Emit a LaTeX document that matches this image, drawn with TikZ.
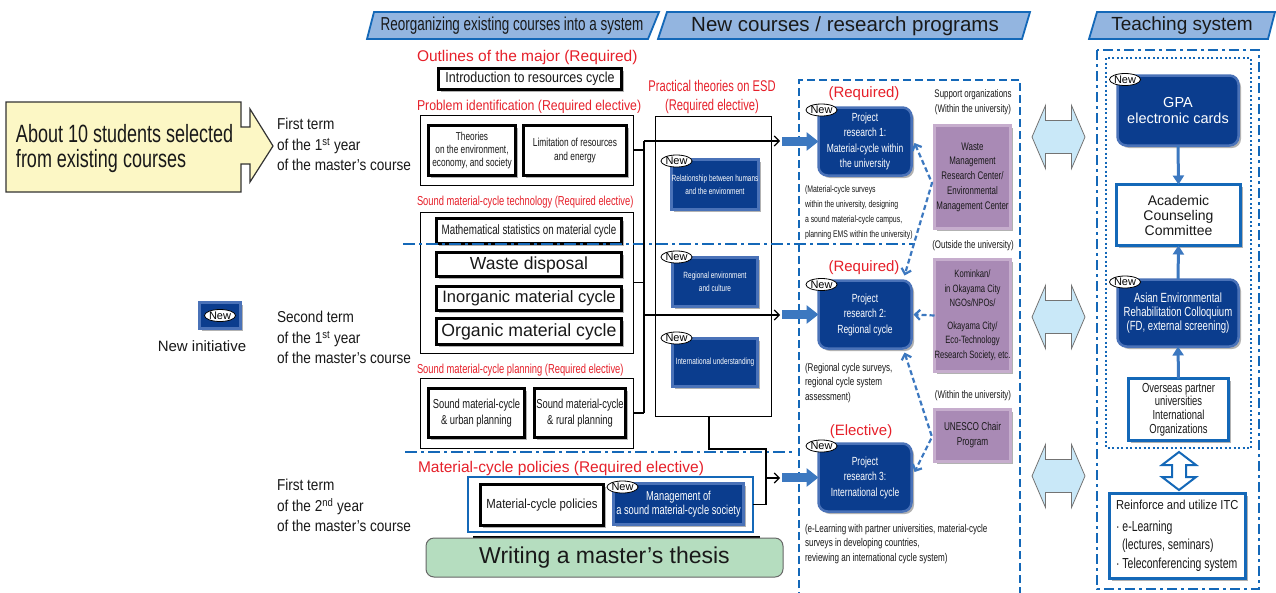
\documentclass[tikz,border=0pt]{standalone}
\usepackage{fontspec}
\setmainfont{Liberation Sans}
\newfontfamily\cnd{Liberation Sans}[FakeStretch=0.86]
\newfontfamily\xcnd{Liberation Sans}[FakeStretch=0.72]
\usetikzlibrary{arrows.meta,shadows,shapes.geometric}
\newcommand\fsz[2]{\fontsize{#1}{#2}\selectfont}
\definecolor{dblue}{HTML}{0B3D8E}
\definecolor{bev}{HTML}{4A72B8}
\definecolor{redt}{HTML}{E6202A}
\definecolor{lineblue}{HTML}{1468B8}
\definecolor{arrblue}{HTML}{3C78C0}
\definecolor{bannerfill}{HTML}{93B5E0}
\definecolor{purp}{HTML}{A98AB5}
\definecolor{purpbev}{HTML}{C6ADCD}
\definecolor{lblue}{HTML}{C9E8F8}
\definecolor{yell}{HTML}{FCF7C5}
\definecolor{thesisgreen}{HTML}{B5DDBF}
\tikzset{
  every node/.style={inner sep=0pt, outer sep=0pt, align=center, text=black!90},
  shad/.style={drop shadow={shadow xshift=2.5pt,shadow yshift=-2.5pt,fill=black,opacity=0.3}},
  kbox/.style={draw=black, line width=3pt, fill=white, shad},
  obox/.style={draw=black, line width=0.9pt},
  bbox/.style={fill=dblue, draw=bev, line width=2.5pt, text=white, shad},
  rbox/.style={bbox, rounded corners=9pt},
  pbox/.style={fill=purp, draw=purpbev, line width=2.5pt, shad},
  wbox/.style={draw=lineblue, line width=2.5pt, fill=white, shad},
  newtag/.style={ellipse, draw=black, fill=white, line width=0.8pt, minimum width=29pt, minimum height=12pt, font=\fsz{11}{11}, text=black},
  redlbl/.style={text=redt},
  banner/.style={fill=bannerfill, draw=lineblue, line width=1.8pt},
  conn/.style={draw=black, line width=1.1pt},
  carr/.style={conn, -{Straight Barb[length=5pt,width=10pt]}},
  fatarr/.style={draw=arrblue, line width=9pt, -{Triangle[length=12pt,width=18pt]}},
  dasharr/.style={draw=arrblue, line width=2.2pt, dash pattern=on 5pt off 3pt, {Straight Barb[length=5pt,width=10pt]}-{Straight Barb[length=5pt,width=10pt]}},
  dasharrone/.style={draw=arrblue, line width=2.2pt, dash pattern=on 5pt off 3pt, -{Straight Barb[length=5pt,width=10pt]}},
  ddot/.style={draw=lineblue, line width=2.5pt, dash pattern=on 12pt off 4pt on 3pt off 4pt},
  dashbox/.style={draw=lineblue, line width=2.5pt, dash pattern=on 8pt off 4pt},
  tarr/.style={draw=arrblue, line width=3pt, -{Triangle[length=9pt,width=11pt]}},
  dblarrow/.pic={\draw[fill=lblue, draw=black!55, line width=0.8pt] (-26.5,0) -- (-13,-31.5) -- (-13,-16.5) -- (13,-16.5) -- (13,-31.5) -- (26.5,0) -- (13,31.5) -- (13,16.5) -- (-13,16.5) -- (-13,31.5) -- cycle;}
}
\begin{document}
\begin{tikzpicture}[x=1pt,y=-1pt]
\useasboundingbox (0,0) rectangle (1276,592);
\fill[white] (0,0) rectangle (1276,592);

% banners
\draw[banner] (367,39) -- (374,12) -- (659,12) -- (648,39) -- cycle;
\node[font={\xcnd\fsz{18.7}{18.7}}] (b1) at (512,26) {Reorganizing existing courses into a system};
\draw[banner] (658,39) -- (667,12) -- (1030,12) -- (1022,39) -- cycle;
\node[font={\fsz{20.5}{20.5}}] (b2) at (845,26) {New courses / research programs};
\draw[banner] (1089,39) -- (1097,12) -- (1275,12) -- (1268,39) -- cycle;
\node[font={\fsz{19}{19}}] (b3) at (1182,26) {Teaching system};

% yellow arrow
\draw[fill=yell, draw=black!80, line width=1.2pt] (6,102) -- (241,102) -- (241,127) -- (250,127) -- (250,109) -- (273,146) -- (250,182) -- (250,164) -- (241,164) -- (241,192) -- (6,192) -- cycle;
\node[anchor=north west, align=left, font={\xcnd\fsz{25}{25}}] (stud) at (16,124) {About 10 students selected\\from existing courses};

% term labels
\tikzset{termlbl/.style={anchor=north west, align=left, font={\cnd\fsz{15.8}{20.5}}}}
\node[termlbl] (t1) at (277,118.5) {First term\\of the 1\textsuperscript{st} year\\of the master’s course};
\node[termlbl] (t2) at (277,311.5) {Second term\\of the 1\textsuperscript{st} year\\of the master’s course};
\node[termlbl] (t3) at (277,479.5) {First term\\of the 2\textsuperscript{nd} year\\of the master’s course};

% new initiative legend
\node[bbox, minimum width=41pt, minimum height=26pt] (nicon) at (220,315.5) {};
\node[newtag] (nicontag) at (nicon.center) {New};
\node[anchor=base, font={\fsz{15}{15}}] (nilbl) at (202,351) {New initiative};

% existing courses
\node[redlbl, anchor=base west, font={\fsz{15.5}{15.5}}] (lout) at (417,61) {Outlines of the major (Required)};
\node[kbox, minimum width=183pt, minimum height=21pt, font={\cnd\fsz{14.5}{14.5}}] (intro) at (530,79) {Introduction to resources cycle};

\node[redlbl, anchor=base west, font={\cnd\fsz{14.3}{14.3}}] (lprob) at (417,110) {Problem identification (Required elective)};
\node[obox, minimum width=213pt, minimum height=70pt] (probbox) at (526.5,150) {};
\node[kbox, minimum width=87pt, minimum height=50pt, font={\xcnd\fsz{11.5}{13}}] (theo) at (472,150.5) {Theories\\on the environment,\\economy, and society};
\node[kbox, minimum width=103pt, minimum height=50pt, font={\xcnd\fsz{11.6}{14}}] (limit) at (575,150.5) {Limitation of resources\\and energy};

\node[redlbl, anchor=base west, font={\xcnd\fsz{13}{13}}] (ltech) at (417,205) {Sound material-cycle technology (Required elective)};
\node[obox, minimum width=213pt, minimum height=141pt] (techbox) at (526.5,282.5) {};
\node[kbox, minimum width=185pt, minimum height=25pt, font={\xcnd\fsz{13.6}{13.6}}] (math) at (529,231) {Mathematical statistics on material cycle};
\node[kbox, minimum width=185pt, minimum height=24pt, font={\fsz{17.5}{17.5}}] (waste) at (529,264.5) {Waste disposal};
\node[kbox, minimum width=185pt, minimum height=24pt, font={\fsz{16.5}{16.5}}] (inorg) at (529,298.5) {Inorganic material cycle};
\node[kbox, minimum width=185pt, minimum height=26pt, font={\fsz{17.7}{17.7}}] (org) at (529,331.5) {Organic material cycle};

\node[redlbl, anchor=base west, font={\xcnd\fsz{13}{13}}] (lplan) at (417,373) {Sound material-cycle planning (Required elective)};
\node[obox, minimum width=213pt, minimum height=70pt] (planbox) at (526.5,413) {};
\node[kbox, minimum width=96pt, minimum height=49pt, font={\xcnd\fsz{13}{16}}] (urban) at (476.5,413) {Sound material-cycle\\\& urban planning};
\node[kbox, minimum width=91pt, minimum height=49pt, font={\xcnd\fsz{13}{16}}] (rural) at (580,413) {Sound material-cycle\\\& rural planning};

% ESD
\node[redlbl, anchor=north, font={\xcnd\fsz{15.5}{19}}] (lesd) at (712,80.5) {Practical theories on ESD\\(Required elective)};
\node[obox, minimum width=116pt, minimum height=300pt] (esdbox) at (713,266) {};
\tikzset{esdin/.style={bbox, minimum width=85pt, font={\xcnd\fsz{9}{13}}}}
\node[esdin, minimum height=50pt] (rel) at (715,184.5) {Relationship between humans\\and the environment};
\node[newtag] (reltag) at (676.5,161) {New};
\node[esdin, minimum height=49pt] (reg) at (715,282) {Regional environment\\and culture};
\node[newtag] (regtag) at (676.5,257) {New};
\node[esdin, minimum height=48pt] (intl) at (715,362.5) {International understanding};
\node[newtag] (intltag) at (676.5,338) {New};

% policies and thesis
\node[redlbl, anchor=base west, font={\fsz{15.5}{15.5}}] (lpol) at (418,472) {Material-cycle policies (Required elective)};
\node[draw=lineblue, line width=1.2pt, minimum width=285pt, minimum height=55pt] (polbox) at (610.5,504.5) {};
\node[kbox, minimum width=123pt, minimum height=41pt, font={\cnd\fsz{13.2}{13.2}}] (mcp) at (542,505) {Material-cycle policies};
\node[bbox, minimum width=130pt, minimum height=41pt, font={\xcnd\fsz{12.9}{14}}] (mgmt) at (678.5,504) {Management of\\a sound material-cycle society};
\node[newtag] (mgmttag) at (622.5,487) {New};
\draw[line width=1.5pt] (473,537) -- (760,537);
\node[fill=thesisgreen, draw=black!60, line width=1pt, rounded corners=8pt, minimum width=357pt, minimum height=39pt, font={\fsz{23}{23}}] (thesis) at (604.5,557.5) {Writing a master’s thesis};

% dash-dot separators
\draw[ddot] (403,244) -- (915,244);
\draw[ddot] (405,452) -- (792,452);

% connectors
\coordinate (v1) at (644,141);
\coordinate (v2) at (644,413);
\coordinate (a1) at (780,141);
\coordinate (m2) at (644,315);
\coordinate (a2) at (780,315);
\coordinate (c3) at (766,449);
\coordinate (m3) at (766,478);
\coordinate (a3) at (780,478);
\draw[conn] (probbox.east) -- (probbox.east -| v1);
\draw[conn] (techbox.east) -- (techbox.east -| v1);
\draw[conn] (planbox.east) -- (v2);
\draw[conn] (v1) -- (v2);
\draw[carr] (v1) -- (a1);
\draw[carr] (m2) -- (a2);
\draw[conn] ([xshift=-4pt]esdbox.south) |- (c3) -- (polbox.east -| c3) -- (polbox.east);
\draw[carr] (m3) -- (a3);

% new courses dashed frame
\draw[dashbox] (799,600) -- (799,80) -- (1020,80) -- (1020,600);

% project research
\tikzset{prbox/.style={rbox, minimum width=93pt, minimum height=68pt, font={\xcnd\fsz{11.8}{15.5}}},
  prdesc/.style={anchor=north west, align=left, font={\xcnd\fsz{9.6}{14.7}}},
  prlbl/.style={redlbl, anchor=base, font={\fsz{15}{15}}}}
\node[prlbl] (req1) at (864,97) {(Required)};
\node[prbox] (pr1) at (865,141.5) {Project\\research 1:\\Material-cycle within\\the university};
\node[newtag] (pr1tag) at (821.5,110) {New};
\node[prdesc] (d1) at (805,186) {(Material-cycle surveys\\within the university, designing\\a sound material-cycle campus,\\planning EMS within the university)};

\node[prlbl] (req2) at (864,271) {(Required)};
\node[prbox] (pr2) at (865,314.5) {Project\\research 2:\\Regional cycle};
\node[newtag] (pr2tag) at (821.5,284.5) {New};
\node[prdesc, font={\xcnd\fsz{11.2}{14.7}}] (d2) at (805,363) {(Regional cycle surveys,\\regional cycle system\\assessment)};

\node[prlbl] (el3) at (861,435) {(Elective)};
\node[prbox] (pr3) at (865,477.5) {Project\\research 3:\\International cycle};
\node[newtag] (pr3tag) at (821.5,446) {New};
\node[prdesc, font={\xcnd\fsz{11.2}{14.7}}] (d3) at (805,524) {(e-Learning with partner universities, material-cycle\\surveys in developing countries,\\reviewing an international cycle system)};

\draw[fatarr] (782,141.5) -- (pr1.west);
\draw[fatarr] (782,314.5) -- (pr2.west);
\draw[fatarr] (782,477.5) -- (pr3.west);

% support organizations
\tikzset{suplbl/.style={font={\xcnd\fsz{11}{15}}}}
\node[suplbl, anchor=north] (sup) at (973,90) {Support organizations\\(Within the university)};
\node[pbox, minimum width=76pt, minimum height=103pt, font={\xcnd\fsz{11}{14.7}}] (wm) at (972.5,177) {Waste\\Management\\Research Center/\\Environmental\\Management Center};
\node[suplbl, anchor=base] (outs) at (973,248) {(Outside the university)};
\node[pbox, minimum width=76pt, minimum height=112pt, font={\xcnd\fsz{10.6}{14.5}}] (kom) at (972.5,315.5) {Kominkan/\\in Okayama City\\NGOs/NPOs/\\[8pt]Okayama City/\\Eco-Technology\\Research Society, etc.};
\node[suplbl, anchor=base] (within2) at (973,398) {(Within the university)};
\node[pbox, minimum width=76pt, minimum height=52pt, font={\xcnd\fsz{11.4}{15}}] (unesco) at (972.5,435.5) {UNESCO Chair\\Program};

\coordinate (j1) at (932,183);
\coordinate (j2) at (932,437);
\draw[dasharr] ([xshift=3pt,yshift=-1.5pt]pr1.east) -- (j1) -- ([xshift=-7pt,yshift=5pt]pr2.north east);
\draw[dasharrone] (kom.west) -- ([xshift=2pt]pr2.east);
\draw[dasharr] ([xshift=-7pt,yshift=-4pt]pr2.south east) -- (j2) -- ([xshift=3pt,yshift=5.5pt]pr3.east);

% big two-way arrows
\pic (da1) at (1058.5,137) {dblarrow};
\pic (da2) at (1058.5,317) {dblarrow};
\pic (da3) at (1058.5,476) {dblarrow};

% teaching system
\draw[draw=lineblue, line width=2.5pt, dash pattern=on 10pt off 4pt on 3pt off 4pt] (1097,50) rectangle (1259,589);
\draw[draw=lineblue, line width=2pt, dash pattern=on 2pt off 2.5pt] (1106,58) rectangle (1251,448);
\node[rbox, minimum width=121pt, minimum height=70pt, font={\fsz{14.5}{16}}] (gpa) at (1178,110.5) {GPA\\electronic cards};
\node[newtag] (gpatag) at (1125,79.5) {New};
\node[wbox, minimum width=124pt, minimum height=61pt, font={\fsz{14}{15}}] (acad) at (1178.5,215) {Academic\\Counseling\\Committee};
\node[rbox, minimum width=121pt, minimum height=67pt, font={\xcnd\fsz{13.3}{14}}] (asian) at (1178,313) {Asian Environmental\\Rehabilitation Colloquium\\(FD, external screening)};
\node[newtag] (asiantag) at (1125,282) {New};
\node[wbox, minimum width=100pt, minimum height=62pt, font={\xcnd\fsz{13.1}{13.8}}] (overs) at (1178.5,409.5) {Overseas partner\\universities\\International\\Organizations};
\draw[tarr] (gpa.south) -- (acad.north);
\draw[tarr] (asian.north) -- (acad.south);
\draw[tarr] (overs.north) -- (asian.south);
\draw[draw=lineblue, line width=2pt, fill=white] (1179,452) -- (1196,465) -- (1186,465) -- (1186,477) -- (1196,477) -- (1179,490) -- (1162,477) -- (1172,477) -- (1172,465) -- (1162,465) -- cycle;
\node[wbox, minimum width=136pt, minimum height=85pt] (itc) at (1177.5,536) {};
\node[anchor=north west, align=left, font={\xcnd\fsz{14.5}{17.5}}] (itctext) at (1116,500.5) {{\cnd\fsz{13}{17.5}Reinforce and utilize ITC}\\[4.5pt]·\hspace{3pt}e-Learning\\\hspace{6pt}(lectures, seminars)\\[1.5pt]·\hspace{3pt}Teleconferencing system};
\end{tikzpicture}
\end{document}
